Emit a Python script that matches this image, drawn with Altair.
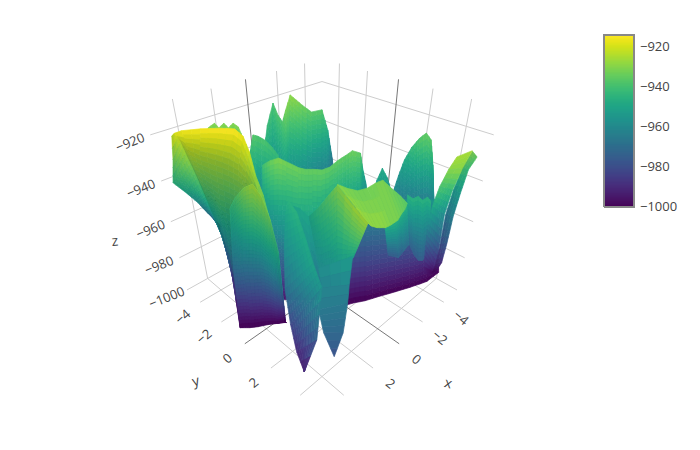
import math
import altair as alt

# ---- axes -----
x_ticks = [-4, -2, 0, 2, 4]
y_ticks = [-4, -2, 0, 2, 4]
z_ticks = [-1000, -980, -960, -940, -920]
x_labels = [-4, -2, 0, 2]
y_labels = [-4, -2, 0, 2]
bar_ticks = [-1000, -980, -960, -940, -920]
LO, HI = -5.35, 5.35
ZMIN, ZTOP, CMAX = -1000, -909, -914

# ---- surface: each sheet is rows of (along = x+y, across = y-x, in tenths) and z ----
A_t = [[-50,-59,-50,-59,-50,-59,-52,-36],[-64]*8]
A_s = [[-84,-81,-76,-74,-69,-67,-62,-56],[-91,-86,-82,-78,-74,-71,-67,-62]]
A_z = [[-930,-930,-930,-930,-930,-930,-930,-932],[-945]*8]
B_t = [[-48,-103,-139,-109,-94,-95,-113,-110,-107,-108,-113,-104,-122],[-27,-27,-35,-35,-35,-35,-42,-42,-42,-53,-61,-61,-68]]
B_s = [[-46,-47,-45,-38,-33,-30,-27,-22,-17,-9,0,5,10],[-46,-41,-38,-34,-31,-28,-26,-21,-16,-8,0,5,10]]
B_z = [[-948,-942,-938,-938,-938,-932,-928,-930,-932,-936,-936,-945,-968],[-962,-962,-965,-965,-965,-965,-968,-968,-968,-972,-975,-975,-978]]
C_t = [[-38,-54,-60,-65,-58,-52,-45],[-20]*7]
C_s = [[-57,-55,-53,-50,-44,-38,-33],[-56,-54,-52,-48,-43,-37,-33]]
C_z = [[-950,-942,-936,-938,-938,-940,-942],[-962]*7]
D_t = [[-15,-31,-43,-34,-23],[-21]*5]
D_s = [[36,41,46,49,52],[38,42,45,49,53]]
D_z = [[-952,-950,-948,-950,-955],[-965]*5]
E_t = [[-34,-53,-57,-59,-58,-56,-51,-39,-20],[-20]*9]
E_s = [[53,61,65,70,75,79,82,83,84],[54,61,66,72,78,84,87,89,89]]
E_z = [[-962,-955,-948,-942,-937,-934,-936,-945,-962],[-985]*9]
G_t = [[-23,-10,-1,-2,3,2,2,3,-4,-14,-22,-22,-25,-36,-37],[5,11,16,20,27,27,27,20,16,11,5,5,-2,-6,-11],[19]*15]
G_s = [[-42,-35,-28,-23,-15,-11,-6,0,5,11,17,21,27,30,34],[-42,-36,-30,-24,-16,-11,-6,0,5,11,17,22,28,30,33],[-44,-39,-33,-27,-18,-13,-7,0,6,12,18,23,28,31,33]]
G_z = [[-940,-934,-930,-932,-933,-934,-934,-934,-935,-935,-935,-933,-935,-945,-955],[-965,-962,-960,-958,-955,-955,-955,-958,-960,-962,-965,-965,-968,-970,-972],[-995]*15]
H_t = [[5,3,6,8,8,4,1],[2,-5,-12,-13,-20,-26,-24]]
H_s = [[-90,-88,-84,-80,-77,-75,-73],[-93,-98,-104,-97,-92,-88,-79]]
H_z = [[-918,-922,-928,-936,-945,-955,-965],[-920,-932,-945,-950,-958,-966,-972]]
I_t = [[5,9,10,13,14,17,24,34,45,60],[3,15,15,18,21,28,34,39,48,62],[8,17,18,30,30,36,41,46,52,58],[1,4,13,16,39,39,39,38,36,34]]
I_s = [[-90,-84,-72,-60,-51,-46,-42,-38,-33,-28],[-88,-80,-74,-64,-56,-49,-44,-39,-35,-29],[-80,-75,-71,-62,-56,-49,-44,-39,-35,-29],[-73,-70,-67,-65,-59,-55,-52,-46,-39,-27]]
I_z = [[-918,-916,-915,-914,-914,-916,-920,-926,-930,-935],[-922,-922,-924,-925,-926,-926,-927,-930,-933,-937],[-936,-938,-940,-940,-942,-942,-942,-944,-946,-950],[-965,-968,-972,-985,-1000,-1000,-1000,-1000,-1000,-1000]]
K_t = [[-16]*9,[17,14,12,7,2,-3,-7,-10,-21]]
K_s = [[17,24,31,42,53,64,71,76,84],[17,25,33,45,58,70,79,85,97]]
K_z = [[-955]*9,[-1000]*9]
L_t = [[39,34,17,11],[7,10,10,11]]
L_s = [[38,45,54,59],[48,55,61,65]]
L_z = [[-945]*4,[-975,-975,-968,-965]]
M_t = [[4,9,6,11,7,12],[1,7,13,13,7,1]]
M_s = [[57,60,64,66,70,71],[64,67,69,72,76,79]]
M_z = [[-945]*6,[-972,-975,-975,-975,-975,-975]]
O_t = [[-11,-12,-30,-28,-16,-15,-18],[-19,-22,-17,-11,-7,-10,-20]]
O_s = [[100,96,99,96,92,91,90],[107,104,100,96,94,94,94]]
O_z = [[-930,-938,-955,-968,-980,-992,-999],[-935,-942,-952,-962,-975,-988,-999]]
N_t = [[14,15,13,11,5,-5,-12],[2,19,6,-4,-5,-11,-18]]
N_s = [[82,78,75,73,74,78,82],[95,85,86,87,88,89,90]]
N_z = [[-925,-930,-938,-948,-962,-978,-995],[-926,-928,-942,-958,-975,-990,-999]]
R_t = [[33,32,32,29,26,28,32,35,38],[84,82,81,81,74,65,54,47,38]]
R_s = [[9,15,21,27,32,36,41,46,50],[22,24,27,31,35,40,44,47,50]]
R_z = [[-930,-932,-933,-933,-932,-930,-932,-934,-936],[-925,-927,-928,-928,-930,-932,-934,-935,-936]]
Q_t = [[18,27,29,34,66,84],[54,57,59,59,60,60]]
Q_s = [[-9,-2,4,9,16,22],[-2,2,6,9,14,18]]
Q_z = [[-950,-942,-936,-930,-926,-925],[-958,-958,-957,-955,-952,-950]]
S_t = [[4,8,18,54],[32,37,46,54]]
S_s = [[-22,-15,-9,-2],[-14,-10,-6,0]]
S_z = [[-950,-950,-950,-958],[-955,-955,-958,-968]]
T_t = [[54,64,77,84,93],[55,65,72,87,93]]
T_s = [[-2,0,-2,1,7],[18,16,15,12,7]]
T_z = [[-958,-962,-965,-972,-978],[-952,-960,-965,-970,-978]]
J_t = [[23,26,37,47,52,60,66,61,39],[32,34,35,37,39,46,53,51,37],[39,38,38,37,36,35,35,34,34]]
J_s = [[-58,-53,-45,-38,-33,-28,-24,-24,-26],[-59,-55,-52,-45,-40,-34,-29,-26,-27],[-59,-55,-50,-46,-41,-36,-32,-28,-26]]
J_z = [[-944,-938,-930,-925,-928,-934,-945,-965,-995],[-968,-967,-966,-965,-964,-962,-962,-975,-998],[-1000]*9]
U_t = [[11,16,36,55,63,74,85],[11,25,45,65,76,85,85]]
U_s = [[-22,-24,-24,-23,-20,-16,-11],[-22,-16,-10,-5,0,-3,-11]]
U_z = [[-945,-950,-958,-968,-982,-990,-993],[-945,-945,-948,-950,-955,-975,-993]]

# painter's order; each group is drawn, then its soft shadow (one strength per row of a sheet)
GROUPS = [
    [(A_t,A_s,A_z,None),(B_t,B_s,B_z,None),(C_t,C_s,C_z,None),(D_t,D_s,D_z,None),(E_t,E_s,E_z,None),(G_t,G_s,G_z,None)],
    [(H_t,H_s,H_z,[.05,.12]),(I_t,I_s,I_z,[0,.2,.22,.08])],
    [(K_t,K_s,K_z,None),(L_t,L_s,L_z,None),(M_t,M_s,M_z,None),(O_t,O_s,O_z,[.08,.04]),(N_t,N_s,N_z,None),(R_t,R_s,R_z,None),(Q_t,Q_s,Q_z,[.08,.02])],
    [(S_t,S_s,S_z,None),(T_t,T_s,T_z,None)],
    [(J_t,J_s,J_z,[.12,.04,0])],
    [(U_t,U_s,U_z,None)],
]

# ---- camera ----
def project(x, y, z):
    t, s, q = x + y, y - x, z + 960
    depth = 4.144 - 0.1086 * t - 0.0124 * q
    return 314 + 58.55 * s / depth, 213.7 + (33.4 * t - 7.92 * q) / depth

def mix(a, b, f):
    return a + (b - a) * f

def build(group):
    feats, shades = [], []
    for T, S, Z, SH in group:
        for r in range(len(Z) - 1):
            for c in range(len(Z[0]) - 1):
                corners = [(T[r][c], S[r][c], Z[r][c]), (T[r][c+1], S[r][c+1], Z[r][c+1]),
                           (T[r+1][c], S[r+1][c], Z[r+1][c]), (T[r+1][c+1], S[r+1][c+1], Z[r+1][c+1])]
                nr = min(20, max(1, math.ceil(max(abs(corners[0][2]-corners[2][2]), abs(corners[1][2]-corners[3][2])) / 2.0)))
                nc = min(4, max(2, math.ceil(abs(corners[0][2]-corners[1][2]) / 2.0)))
                def pt(u, v):
                    top = [mix(corners[0][i], corners[1][i], u) for i in range(3)]
                    bot = [mix(corners[2][i], corners[3][i], u) for i in range(3)]
                    a = [mix(top[i], bot[i], v) for i in range(3)]
                    t, s = a[0] / 10, a[1] / 10
                    return (t - s) / 2, (t + s) / 2, a[2]
                for i in range(nr):
                    for j in range(nc):
                        quad = [pt(j/nc, i/nr), pt((j+1)/nc, i/nr), pt((j+1)/nc, (i+1)/nr), pt(j/nc, (i+1)/nr)]
                        zm = sum(p[2] for p in quad) / 4
                        ring = [[round(w, 1) for w in project(*p)] for p in quad]
                        ring.append(ring[0])
                        geom = {"type": "Polygon", "coordinates": [ring]}
                        feats.append({"type": "Feature", "properties": {"z": round(zm, 1)}, "geometry": geom})
                        if SH:
                            o = mix(SH[r], SH[r+1], (i + .5) / nr)
                            if o > 0.005:
                                shades.append({"type": "Feature", "properties": {"o": round(o, 3)}, "geometry": geom})
    return feats, shades

# ---- grid ----
grid_lines, zero_lines = [], []
def add(points, zero=False):
    (zero_lines if zero else grid_lines).append({"type": "Feature", "properties": {},
        "geometry": {"type": "LineString", "coordinates": [list(project(*p)) for p in points]}})
for z in z_ticks:
    add([(HI, LO, z), (LO, LO, z), (LO, HI, z)])
for v in x_ticks:
    add([(v, LO, ZMIN), (v, LO, ZTOP)], v == 0)
    add([(v, LO, ZMIN), (v, HI, ZMIN)], v == 0)
for v in y_ticks:
    add([(LO, v, ZMIN), (LO, v, ZTOP)], v == 0)
    add([(LO, v, ZMIN), (HI, v, ZMIN)], v == 0)

# ---- colour bar, drawn with the same colour scale as the surface ----
BAR_L, BAR_R, BAR_TOP, BAR_PX = 596, 626, 27, 2.0
def bar_y(v):
    return BAR_TOP + (CMAX - v) * BAR_PX
bar_cells = []
for k in range((CMAX - ZMIN) * 2):
    lo = ZMIN + k / 2
    ring = [[BAR_L, bar_y(lo)], [BAR_R, bar_y(lo)], [BAR_R, bar_y(lo + .5)], [BAR_L, bar_y(lo + .5)], [BAR_L, bar_y(lo)]]
    bar_cells.append({"type": "Feature", "properties": {"z": lo + .25},
                      "geometry": {"type": "Polygon", "coordinates": [ring]}})
bar_frame = [{"type": "Feature", "properties": {}, "geometry": {"type": "LineString", "coordinates": [
    [BAR_L, bar_y(ZMIN)], [BAR_R, bar_y(ZMIN)], [BAR_R, bar_y(CMAX)], [BAR_L, bar_y(CMAX)], [BAR_L, bar_y(ZMIN)]]}}]

# ---- text ----
def minus(v):
    return str(v).replace("-", "\u2212")
texts = []
def label(p, dx, dy, text, angle, size=13):
    px, py = project(*p)
    texts.append({"lon": px + dx, "lat": py + dy, "t": text, "a": angle, "f": size})
for v in z_ticks:
    label((HI, LO, v), -20, 8, minus(v), 338)
for v in y_labels:
    label((HI, v, ZMIN), -17, 15, minus(v), 320)
for v in x_labels:
    label((v, HI, ZMIN), 17, 16, minus(v), 40)
label((HI, LO, -960), -56, 20, "z", 355, 14)
label((HI, 0, ZMIN), -49, 38, "y", 345, 14)
label((0, HI, ZMIN), 49, 40, "x", 15, 14)
bar_text = [{"lon": BAR_R + 6, "lat": bar_y(v), "t": minus(v)} for v in bar_ticks]

PROJ = dict(type="identity", scale=1, translate=[0, 0])
scale = alt.Scale(domain=[ZMIN, CMAX], scheme="viridis", nice=False)

def painted(feats):
    return alt.Chart(alt.Data(values=feats)).mark_geoshape(strokeWidth=0.7).encode(
        color=alt.Color("properties.z:Q", scale=scale, legend=None),
        stroke=alt.Stroke("properties.z:Q", scale=scale, legend=None)).project(**PROJ)

layers = [
    alt.Chart(alt.Data(values=grid_lines)).mark_geoshape(filled=False, stroke="#cdcdcd", strokeWidth=1).project(**PROJ),
    alt.Chart(alt.Data(values=zero_lines)).mark_geoshape(filled=False, stroke="#777777", strokeWidth=1).project(**PROJ),
]
for g in GROUPS:
    feats, shades = build(g)
    layers.append(painted(feats))
    if shades:
        layers.append(alt.Chart(alt.Data(values=shades)).mark_geoshape(fill="black", strokeWidth=0).encode(
            opacity=alt.Opacity("properties.o:Q", scale=None, legend=None)).project(**PROJ))

layers.append(painted(bar_cells))
layers.append(alt.Chart(alt.Data(values=bar_frame)).mark_geoshape(filled=False, stroke="#888888", strokeWidth=2).project(**PROJ))
layers.append(alt.Chart(alt.Data(values=texts)).mark_text(font="Open Sans", color="#444444", baseline="middle", align="center").encode(
    longitude="lon:Q", latitude="lat:Q", text="t:N",
    angle=alt.Angle("a:Q", scale=None), size=alt.Size("f:Q", scale=None, legend=None)).project(**PROJ))
layers.append(alt.Chart(alt.Data(values=bar_text)).mark_text(font="Open Sans", color="#444444", baseline="middle", align="left", fontSize=13).encode(
    longitude="lon:Q", latitude="lat:Q", text="t:N").project(**PROJ))

chart = alt.layer(*layers).properties(
    width=684, height=434, padding=0, autosize=alt.AutoSizeParams(type="none"), background="white"
).configure_view(stroke=None)

chart.save("out.html", embed_options={"renderer": "svg", "actions": False})
